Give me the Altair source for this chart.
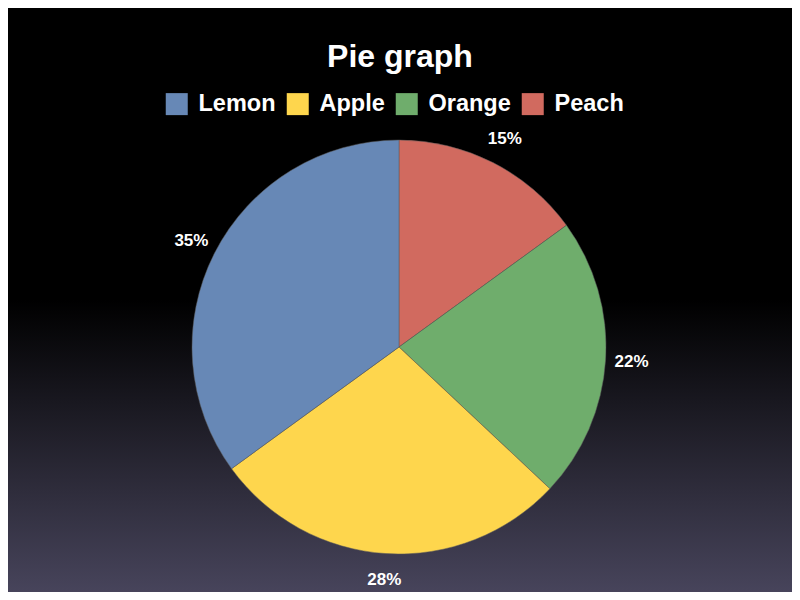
import altair as alt
import pandas as pd

fruits = ["Peach", "Orange", "Apple", "Lemon"]
shares = [15, 22, 28, 35]
legend_order = ["Lemon", "Apple", "Orange", "Peach"]
legend_colors = ["#6788b6", "#fed64d", "#6fad6c", "#d16a5f"]

df = pd.DataFrame({"fruit": fruits, "share": shares, "order": [0, 1, 2, 3]})
df["label"] = df["share"].astype(str) + "%"

W, H = 784, 454
TOP = 130
CX, CY = 391, 209

bg = alt.Chart(pd.DataFrame({"a": [0]})).mark_rect(
    color=alt.Gradient(
        gradient="linear",
        x1=0, x2=0, y1=0, y2=1,
        stops=[
            alt.GradientStop(color="#000000", offset=0),
            alt.GradientStop(color="#000000", offset=0.357),
            alt.GradientStop(color="#47445b", offset=1),
        ],
    )
).encode(
    x=alt.value(0), x2=alt.value(W), y=alt.value(0), y2=alt.value(H)
)

base = alt.Chart(df).encode(
    theta=alt.Theta("share:Q", stack=True),
    order=alt.Order("order:Q"),
)

pie = base.mark_arc(outerRadius=207, stroke="#5a5a5a", strokeWidth=0.5).encode(
    color=alt.Color(
        "fruit:N",
        scale=alt.Scale(domain=legend_order, range=legend_colors),
        legend=alt.Legend(
            title=None,
            orient="none",
            legendX=157,
            legendY=-46,
            direction="horizontal",
            symbolType="square",
            symbolSize=484,
            symbolStrokeWidth=0,
            symbolOpacity=1,
            labelFont="Liberation Sans",
            labelFontWeight="bold",
            labelFontSize=23.5,
            labelColor="white",
            labelOffset=10,
            columnPadding=10,
            padding=0,
        ),
    ),
    x=alt.value(CX),
    y=alt.value(CY),
)

labels = base.mark_text(
    radius=233,
    font="Liberation Sans",
    fontWeight="bold",
    fontSize=17,
    color="white",
).encode(
    text="label:N",
    x=alt.value(CX),
    y=alt.value(CY),
)

chart = alt.layer(bg, pie, labels).properties(
    width=W,
    height=H,
    padding={"left": 0, "right": 0, "top": TOP, "bottom": 0},
    autosize=alt.AutoSizeParams(type="none"),
    title=alt.TitleParams(
        "Pie graph",
        font="Liberation Sans",
        fontWeight="bold",
        fontSize=32,
        color="white",
        anchor="middle",
        offset=18,
    ),
    background="#000000",
).configure_view(stroke=None)

chart.save("out.html", embed_options={"renderer": "svg", "actions": False})
